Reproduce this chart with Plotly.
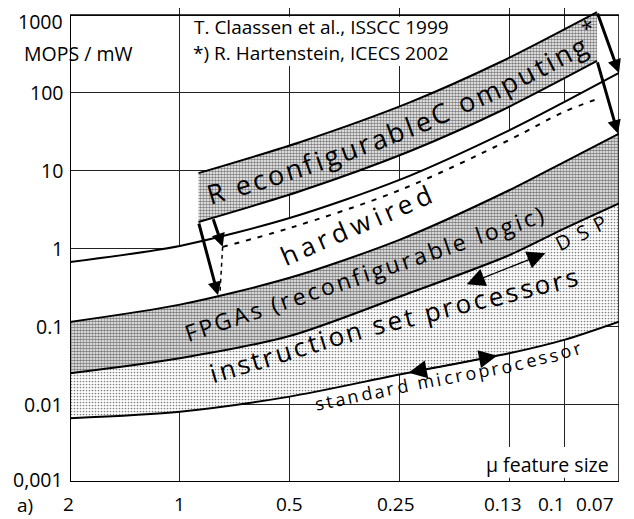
import numpy as np
import plotly.graph_objects as go

# ---------------- data ----------------
feature_size_labels = ["2", "1", "0.5", "0.25", "0.13", "0.1", "0.07"]
feature_pos = [0, 1, 2, 3, 4, 4.5, 5]          # technology generation on the x axis

micro_bottom  = [0.0066, 0.008, 0.0125, 0.024, 0.045, 0.067, 0.115]
isp_top       = [0.025, 0.039, 0.075, 0.24, 0.82, 1.8, 3.8]
fpga_top      = [0.114, 0.19, 0.42, 1.29, 5.6, 12.9, 30]
hardwired_top = [0.67, 1.08, 2.46, 7.6, 33, 76, 180]

dashed_pos  = [1.39, 2, 3, 4, 4.5, 4.8]
dashed_vals = [1.05, 1.83, 5.6, 24.8, 57, 83]

rc_pos    = [1.17, 2.1, 3.1, 3.92, 4.8]
rc_top    = [9.3, 23.4, 76, 249, 1090]
rc_bottom = [2.19, 5.48, 17.9, 58.4, 257]

y_tick_vals = [0.001, 0.01, 0.1, 1, 10, 100, 1000]
y_tick_text = ["0,001", "0.01", "0.1", "1", "10", "100", "1000"]

# ---------------- layout constants ----------------
PAGE_OFFSET = 8                      # default page margin around the figure
W, H = 634 - PAGE_OFFSET, 519 - PAGE_OFFSET
ML, MR, MT, MB = 62, 15, 0, 37
X_RANGE = [0, 5]
PX_PER_DEC = (H - MT - MB - 7) / 6.0
Y_RANGE = [-3, 3 + 7 / PX_PER_DEC]
PX_PER_U = (W - ML - MR) / (X_RANGE[1] - X_RANGE[0])
FONT = "Open Sans"


def lg(a):
    return np.log10(np.asarray(a, dtype=float))


def curve(pos, vals):
    lv = lg(vals)
    return lambda u: np.interp(u, pos, lv)


def paper(u, l):
    return ((u - X_RANGE[0]) / (X_RANGE[1] - X_RANGE[0]),
            (l - Y_RANGE[0]) / (Y_RANGE[1] - Y_RANGE[0]))


micro_c = curve(feature_pos, micro_bottom)
isp_c = curve(feature_pos, isp_top)
fpga_c = curve(feature_pos, fpga_top)
rct_c = curve(rc_pos, rc_top)
rcb_c = curve(rc_pos, rc_bottom)

CW = {'a': .556, 'b': .613, 'c': .48, 'd': .613, 'e': .561, 'f': .336, 'g': .547, 'h': .613,
      'i': .258, 'l': .258, 'm': .932, 'n': .613, 'o': .6, 'p': .613, 'r': .409, 's': .477,
      't': .352, 'u': .613, 'w': .818, 'R': .633, 'C': .632, 'F': .525, 'P': .595, 'G': .726,
      'A': .632, 'D': .73, 'S': .549, ' ': .26, '(': .3, ')': .3, '*': .55}


def text_on_path(text, path_fn, u0, u1, size):
    us = np.linspace(u0, u1, 600)
    Ls = path_fn(us)
    X = us * PX_PER_U
    Y = -Ls * PX_PER_DEC
    s = np.concatenate([[0], np.cumsum(np.hypot(np.diff(X), np.diff(Y)))])
    widths = np.array([CW.get(c, .55) * size for c in text])
    sp = (s[-1] - widths.sum()) / (len(text) - 1)
    anns = []
    pos = 0.0
    for c, w in zip(text, widths):
        sc = pos + w / 2
        pos += w + sp
        if c == ' ':
            continue
        k = int(np.clip(np.searchsorted(s, sc), 1, len(s) - 1))
        ang = float(np.degrees(np.arctan2(Y[k] - Y[k - 1], X[k] - X[k - 1])))
        anns.append(dict(x=float(np.interp(sc, s, us)), y=float(np.interp(sc, s, Ls)),
                         text=c, textangle=ang, showarrow=False, xanchor='center',
                         yanchor='middle', font=dict(size=size, color='black', family=FONT)))
    return anns


def pts_path(us, ls):
    return lambda u: np.interp(u, us, ls)


fig = go.Figure()
bline = dict(color='black', width=2, shape='spline', smoothing=0.8)

fig.add_trace(go.Scatter(x=feature_pos, y=micro_bottom, mode='lines', line=bline, hoverinfo='skip'))
fig.add_trace(go.Scatter(x=feature_pos, y=isp_top, mode='lines', line=bline, fill='tonexty',
                         fillpattern=dict(shape='.', bgcolor='white', fgcolor='black', size=3, solidity=0.25),
                         hoverinfo='skip'))
fig.add_trace(go.Scatter(x=feature_pos, y=fpga_top, mode='lines', line=bline, fill='tonexty',
                         fillpattern=dict(shape='.', bgcolor='white', fgcolor='black', size=3, solidity=0.62),
                         hoverinfo='skip'))
fig.add_trace(go.Scatter(x=feature_pos, y=hardwired_top, mode='lines', line=bline, fill='tonexty',
                         fillcolor='white', hoverinfo='skip'))
fig.add_trace(go.Scatter(x=dashed_pos, y=dashed_vals, mode='lines',
                         line=dict(color='black', width=2, dash='5px,7px', shape='spline'), hoverinfo='skip'))
fig.add_trace(go.Scatter(x=rc_pos, y=rc_top, mode='lines', line=bline, hoverinfo='skip'))
fig.add_trace(go.Scatter(x=rc_pos, y=rc_bottom, mode='lines', line=bline, fill='tonexty',
                         fillpattern=dict(shape='.', bgcolor='white', fgcolor='black', size=3, solidity=0.55),
                         hoverinfo='skip'))

shapes = []
# white boxes behind the source note and the axis title (hide grid there)
shapes.append(dict(type='rect', xref='x', yref='y', x0=1.09, x1=3.39, y0=222, y1=950,
                   fillcolor='white', line=dict(width=0), layer='between'))
shapes.append(dict(type='rect', xref='x', yref='y', x0=3.73, x1=4.97, y0=0.00113, y1=0.00282,
                   fillcolor='white', line=dict(width=0), layer='between'))
# plot frame
for (x0, y0, x1, y1, w) in [(0, 0.001, 0, 1000, 2), (0, 0.001, 5, 0.001, 2),
                            (0, 1000, 5, 1000, 1.5), (5, 0.001, 5, 1000, 1.5)]:
    shapes.append(dict(type='line', xref='x', yref='y', x0=x0, y0=y0, x1=x1, y1=y1,
                       line=dict(color='black', width=w), layer='above'))
# dashed drop from the dashed line to the FPGA boundary
drop_u = 1.365
shapes.append(dict(type='line', xref='x', yref='y', x0=dashed_pos[0], y0=dashed_vals[0],
                   x1=drop_u, y1=float(10 ** fpga_c(drop_u)),
                   line=dict(color='black', width=1.5, dash='4px,4px')))

anns = []


def arrow(u0, l0, u1, l1, width=3, size=1.0, head=2, side='end'):
    return dict(x=u1, y=l1, ax=u0, ay=l0, xref='x', yref='y', axref='x', ayref='y', text='',
                showarrow=True, arrowhead=head, arrowsize=size, arrowwidth=width,
                arrowcolor='black', arrowside=side, startarrowhead=head, startarrowsize=size,
                standoff=0, startstandoff=0)


# arrows from the reconfigurable computing band
anns.append(arrow(rc_pos[0], float(rcb_c(rc_pos[0])), 1.348, float(fpga_c(1.348)), 3, 0.9))
anns.append(arrow(1.30, float(rcb_c(1.30)), dashed_pos[0], float(lg(dashed_vals[0])), 3, 0.9))
anns.append(arrow(rc_pos[-1], float(lg(rc_top[-1])), 5.0, float(lg(hardwired_top[-1])), 3, 0.9))
anns.append(arrow(rc_pos[-1], float(lg(rc_bottom[-1])), 4.99, float(lg(fpga_top[-1])), 3, 0.9))


def isp_t(u, t):
    return float(micro_c(u) + t * (isp_c(u) - micro_c(u)))


# double arrows (DSP / microprocessor)
anns.append(arrow(3.60, isp_t(3.60, 0.855), 4.33, isp_t(4.33, 0.855), 1.3, 2.8, 2, 'end+start'))
anns.append(arrow(3.07, float(micro_c(3.07)), 3.89, float(micro_c(3.89)), 1.3, 2.8, 2, 'end+start'))

# curved band labels
anns += text_on_path("R econfigurableC omputing",
                     lambda u: 0.5 * (rct_c(u) + rcb_c(u)), 1.25, 4.69, 27)
anns += text_on_path("hardwired", pts_path([1.93, 3.28], [-0.109, 0.713]), 1.93, 3.28, 26)
anns += text_on_path("FPGAs (reconfigurable logic)",
                     pts_path([1.047, 3.005, 4.308], [-1.098, -0.173, 0.456]), 1.047, 4.308, 23)
anns += text_on_path("instruction set processors",
                     pts_path([1.2, 2.8, 4.65], [-1.64, -0.97, -0.34]), 1.275, 4.617, 26)
anns += text_on_path("standard microprocessor",
                     lambda u: micro_c(u) - 12 / PX_PER_DEC, 2.231, 4.645, 18)
anns += text_on_path("DSP", pts_path([4.435, 4.872], [0.045, 0.353]), 4.435, 4.872, 20)
anns.append(dict(x=4.72, y=2.84, text="*", showarrow=False, textangle=-26,
                 xanchor='center', yanchor='middle',
                 font=dict(size=22, color='black', family=FONT)))


# free texts (paper coordinates so that they may sit outside the plot area)
def ptext(u, l, text, size, xanchor='center', **kw):
    px, py = paper(u, l)
    d = dict(x=px, y=py, xref='paper', yref='paper', text=text, showarrow=False,
             xanchor=xanchor, yanchor='middle',
             font=dict(size=size, color='black', family=FONT))
    d.update(kw)
    return d


anns.append(ptext(2.29, 2.844, "T. Claassen et al., ISSCC 1999", 19))
anns.append(ptext(2.29, 2.51, "*) R. Hartenstein, ICECS 2002", 19))
anns.append(ptext(-0.437, 2.51, "MOPS / mW", 19.5, xanchor='left'))
anns.append(ptext(4.353, -2.78, "μ feature size", 19.5))
anns.append(ptext(-0.5, -3.25, "a)", 19, xanchor='left', yshift=-4))
# x tick labels (slightly pulled left near the right edge, as in the original)
label_shift = [-2, 0, 0, -3, -6, -13, -24]
for p, t, sh in zip(feature_pos, feature_size_labels, label_shift):
    anns.append(ptext(p, -3.283, t, 19, xshift=sh))
# y tick labels
y_label_shift = {1000: -7, 0.001: 3}
for v, t in zip(y_tick_vals, y_tick_text):
    anns.append(ptext(-0.05, float(lg(v)), t, 19.5, xanchor='right',
                      yshift=y_label_shift.get(v, 0)))

fig.update_layout(
    width=W, height=H, margin=dict(l=ML, r=MR, t=MT, b=MB, autoexpand=False),
    paper_bgcolor='white', plot_bgcolor='white', showlegend=False,
    font=dict(family=FONT, color='black'),
    xaxis=dict(range=X_RANGE, tickvals=feature_pos, showticklabels=False, showgrid=True,
               gridcolor='#222', gridwidth=1, zeroline=False, showline=False, ticks='',
               automargin=False),
    yaxis=dict(type='log', range=Y_RANGE, tickvals=y_tick_vals, showticklabels=False,
               showgrid=True, gridcolor='#222', gridwidth=1, zeroline=False, showline=False,
               ticks='', automargin=False),
    shapes=shapes, annotations=anns,
)

fig.write_html("out.html")
